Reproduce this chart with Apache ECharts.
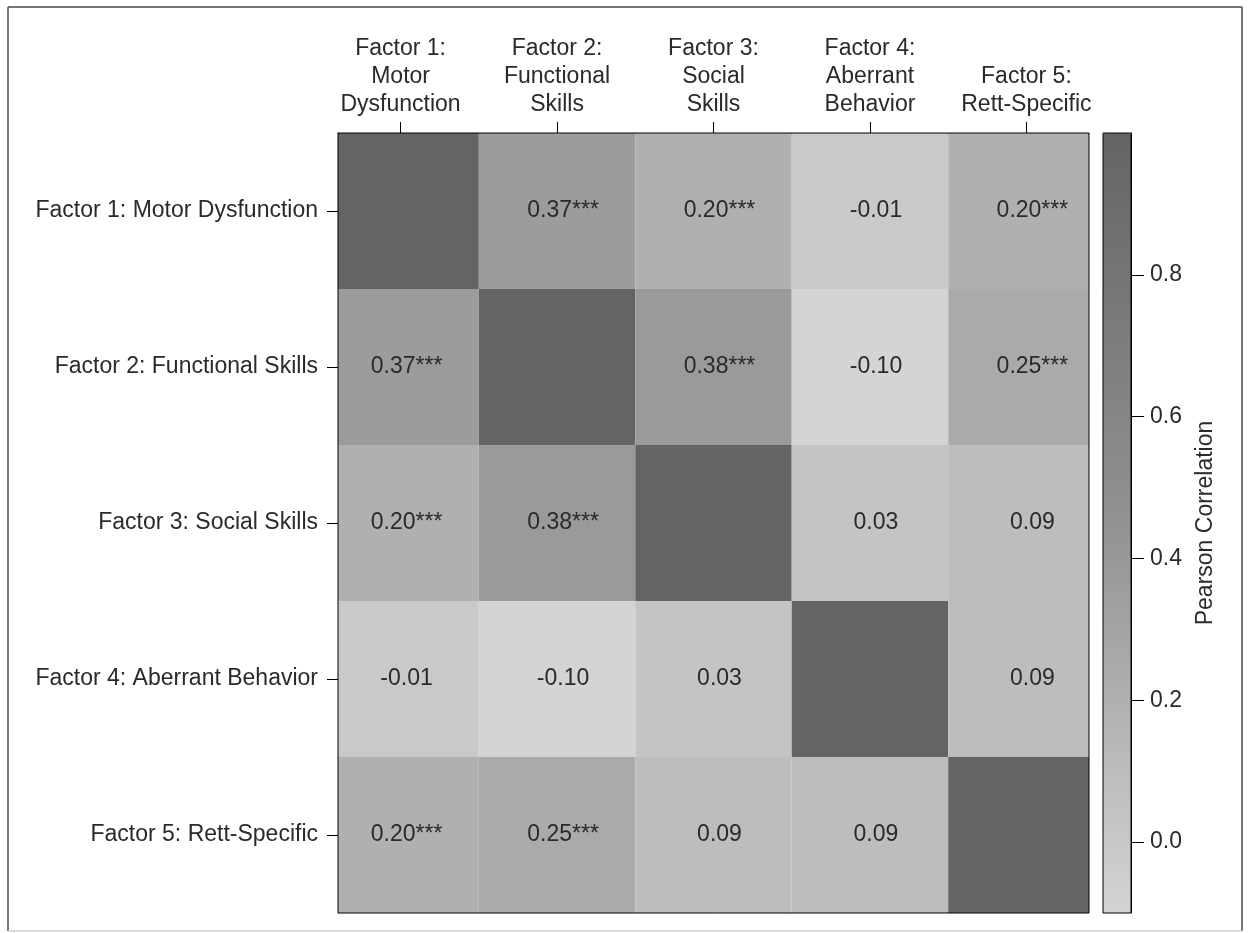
<!DOCTYPE html>
<html>
<head>
<meta charset="utf-8">
<title>Factor correlations</title>
<script src="https://cdn.jsdelivr.net/npm/echarts@6/dist/echarts.min.js"></script>
<style>
  html, body { margin: 0; padding: 0; background: #fff; }
  #chart { width: 1248px; height: 933px; }
</style>
</head>
<body>
<div id="chart"></div>
<script>
// Factor names: stacked form for the top axis, single line for the side axis
const topLabels = [
  'Factor 1:\nMotor\nDysfunction',
  'Factor 2:\nFunctional\nSkills',
  'Factor 3:\nSocial\nSkills',
  'Factor 4:\nAberrant\nBehavior',
  'Factor 5:\nRett-Specific'
];
const sideLabels = [
  'Factor 1: Motor Dysfunction',
  'Factor 2: Functional Skills',
  'Factor 3: Social Skills',
  'Factor 4: Aberrant Behavior',
  'Factor 5: Rett-Specific'
];

// Pearson correlations between factors (row = side factor, column = top factor)
const row1 = [1.00, 0.37, 0.20, -0.01, 0.20];
const row2 = [0.37, 1.00, 0.38, -0.10, 0.25];
const row3 = [0.20, 0.38, 1.00, 0.03, 0.09];
const row4 = [-0.01, -0.10, 0.03, 1.00, 0.09];
const row5 = [0.20, 0.25, 0.09, 0.09, 1.00];
const corrRows = [row1, row2, row3, row4, row5];

// Significance markers
const sig1 = ['', '***', '***', '', '***'];
const sig2 = ['***', '', '***', '', '***'];
const sig3 = ['***', '***', '', '', ''];
const sig4 = ['', '', '', '', ''];
const sig5 = ['***', '***', '', '', ''];
const sigRows = [sig1, sig2, sig3, sig4, sig5];

// Colour scale range and its tick values
const scaleMin = -0.10;
const scaleMax = 1.00;
const scaleTicks = [0.0, 0.2, 0.4, 0.6, 0.8];

const idx = [0, 1, 2, 3, 4];
const cells = [];
corrRows.forEach((row, r) => row.forEach((v, c) => cells.push([c, r, v])));

const FONT = '"Liberation Sans", Arial, sans-serif';
const INK = '#2a2a2a';
const FS = 23;

// layout
const plot = { left: 338, top: 133, width: 751, height: 780 };
const bar = { left: 1103, top: 133, width: 28, height: 780 };

function renderCell(params, api) {
  const xi = api.value(0);
  const yi = api.value(1);
  const v = api.value(2);
  const c = api.coord([xi, yi]);
  const s = api.size([1, 1]);
  const shape = echarts.graphic.clipRectByRect(
    { x: c[0] - s[0] / 2, y: c[1] - s[1] / 2, width: s[0], height: s[1] },
    { x: params.coordSys.x, y: params.coordSys.y, width: params.coordSys.width, height: params.coordSys.height }
  );
  const children = [];
  if (shape) {
    children.push({ type: 'rect', shape: shape, style: { fill: api.visual('color'), stroke: null } });
  }
  if (xi !== yi) {
    children.push({
      type: 'text',
      x: c[0] + 6,
      y: c[1],
      z2: 10,
      style: {
        text: v.toFixed(2) + sigRows[yi][xi],
        align: 'center',
        verticalAlign: 'middle',
        fontSize: FS,
        fontFamily: FONT,
        fill: INK
      }
    });
  }
  return { type: 'group', children: children };
}

const chart = echarts.init(document.getElementById('chart'), null, { renderer: 'canvas' });

chart.setOption({
  backgroundColor: '#ffffff',
  animation: false,
  textStyle: { fontFamily: FONT },
  grid: [
    { left: plot.left, top: plot.top, width: plot.width, height: plot.height,
      show: true, z: 10, backgroundColor: 'transparent', borderColor: '#000', borderWidth: 1 },
    { left: bar.left, top: bar.top, width: bar.width, height: bar.height,
      show: true, z: 10, backgroundColor: 'transparent', borderColor: '#000', borderWidth: 1 }
  ],
  xAxis: [
    {
      gridIndex: 0, type: 'value', position: 'top',
      min: -0.4, max: 4.4,
      splitLine: { show: false },
      axisLine: { show: true, onZero: false, lineStyle: { color: '#000', width: 1 } },
      axisTick: { show: true, customValues: idx, length: 11, lineStyle: { color: '#000' } },
      axisLabel: {
        customValues: idx,
        formatter: (v) => topLabels[Math.round(v)],
        fontSize: FS, color: INK, fontFamily: FONT, lineHeight: 28, margin: 14,
        align: 'center', verticalAlign: 'bottom'
      }
    },
    { gridIndex: 1, type: 'value', show: false, min: 0, max: 1,
      axisLine: { onZero: false } }
  ],
  yAxis: [
    {
      gridIndex: 0, type: 'value', inverse: true,
      min: -0.5, max: 4.5,
      splitLine: { show: false },
      axisLine: { show: true, onZero: false, lineStyle: { color: '#000', width: 1 } },
      axisTick: { show: true, customValues: idx, length: 11, lineStyle: { color: '#000' } },
      axisLabel: {
        customValues: idx,
        formatter: (v) => sideLabels[Math.round(v)],
        fontSize: FS, color: INK, fontFamily: FONT, margin: 20
      }
    },
    {
      gridIndex: 1, type: 'value', position: 'right',
      min: scaleMin, max: scaleMax,
      splitLine: { show: false },
      axisLine: { show: true, onZero: false, lineStyle: { color: '#000', width: 1 } },
      axisTick: { show: true, customValues: scaleTicks, length: 13, lineStyle: { color: '#000' } },
      axisLabel: {
        customValues: scaleTicks,
        formatter: (v) => v.toFixed(1),
        fontSize: FS, color: INK, fontFamily: FONT, margin: 19
      },
      name: 'Pearson Correlation',
      nameLocation: 'middle',
      nameRotate: 90,
      nameGap: 63,
      nameTextStyle: { fontSize: FS, color: INK, fontFamily: FONT }
    }
  ],
  visualMap: {
    type: 'continuous',
    seriesIndex: 0,
    dimension: 2,
    min: scaleMin,
    max: scaleMax,
    calculable: false,
    hoverLink: false,
    left: bar.left,
    top: bar.top,
    itemWidth: bar.width,
    itemHeight: bar.height,
    padding: 0,
    text: null,
    inRange: { color: ['#d4d4d4', '#929292', '#646464'] }
  },
  graphic: [
    { type: 'line', shape: { x1: 8, y1: 7, x2: 1242, y2: 7 }, style: { stroke: '#4a4a4a', lineWidth: 1.5 }, silent: true },
    { type: 'line', shape: { x1: 8, y1: 7, x2: 8, y2: 931 }, style: { stroke: '#4a4a4a', lineWidth: 1.5 }, silent: true },
    { type: 'line', shape: { x1: 1242, y1: 7, x2: 1242, y2: 931 }, style: { stroke: '#4a4a4a', lineWidth: 1.5 }, silent: true },
    { type: 'line', shape: { x1: 8, y1: 931, x2: 1242, y2: 931 }, style: { stroke: '#cfcfcf', lineWidth: 1.5 }, silent: true }
  ],
  series: [
    {
      type: 'custom',
      coordinateSystem: 'cartesian2d',
      xAxisIndex: 0,
      yAxisIndex: 0,
      renderItem: renderCell,
      encode: { x: 0, y: 1 },
      data: cells
    }
  ]
});
</script>
</body>
</html>
